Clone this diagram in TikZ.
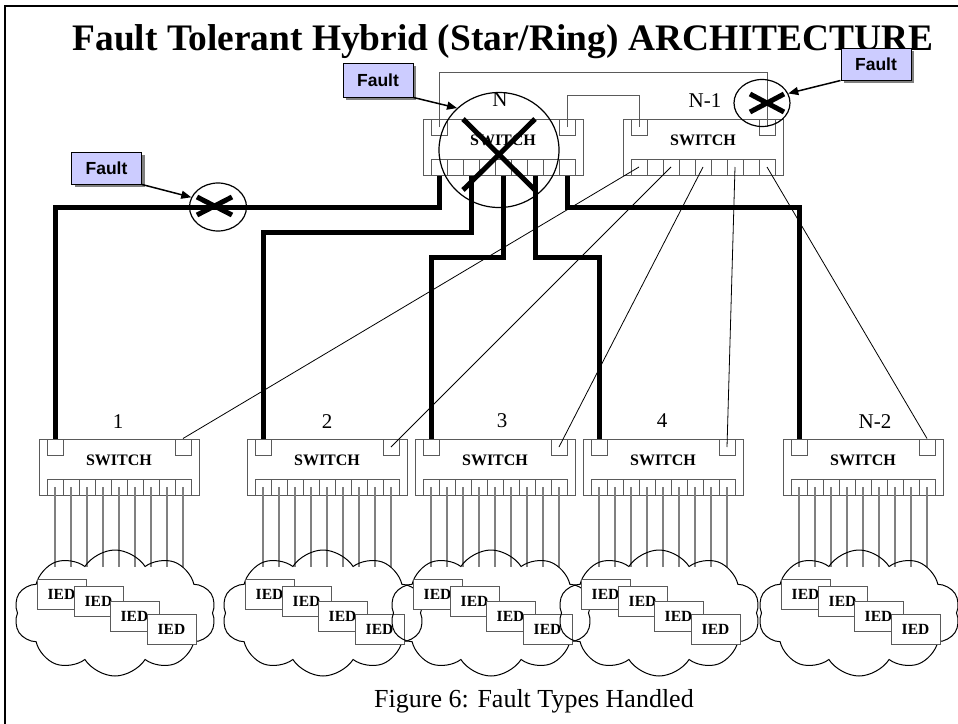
\documentclass[tikz,border=0pt]{standalone}
\usepackage{fontspec}
\setmainfont{Liberation Serif}
\newfontfamily\arialfont{Liberation Sans}
\usetikzlibrary{shapes.geometric,shapes.symbols,arrows.meta,shadows}
\definecolor{faultfill}{HTML}{CCCCFF}
\definecolor{swgray}{HTML}{5A5A5A}
\definecolor{wiregray}{HTML}{808080}
\tikzset{
 swbox/.style={draw=swgray, line width=1pt, minimum width=160pt, minimum height=56pt, inner sep=0pt, anchor=north west},
 swport/.style={draw=swgray, line width=1pt, minimum width=16pt, minimum height=16pt, inner sep=0pt},
 swtext/.style={font=\fontsize{16}{16}\selectfont\bfseries, inner sep=0pt},
 swlabel/.style={font=\fontsize{21}{21}\selectfont, inner sep=0pt},
 iedwire/.style={draw=wiregray, line width=1.3pt},
 trunk/.style={line width=5pt, line join=miter},
 ring/.style={draw=swgray, line width=1pt},
 link/.style={line width=0.8pt},
 cloudnode/.style={cloud, draw, cloud puffs=10, cloud puff arc=115, aspect=1.6, minimum width=202pt, minimum height=126pt, inner sep=0pt, line width=1pt},
 ied/.style={draw=swgray, fill=white, line width=1pt, minimum width=49pt, minimum height=30pt, inner sep=0pt, font=\fontsize{15.5}{15.5}\selectfont\bfseries},
 faultbox/.style={draw=black, fill=faultfill, line width=1pt, minimum width=70pt, minimum height=32pt, inner sep=0pt, font=\arialfont\fontsize{17.5}{17.5}\selectfont\bfseries, drop shadow={shadow xshift=3pt, shadow yshift=-3pt, fill=gray, opacity=1}},
 faultring/.style={ellipse, draw, line width=1.2pt, inner sep=0pt},
 crossline/.style={line width=5pt},
 faultarrow/.style={line width=1.5pt, -{Triangle[length=10pt,width=8pt]}},
}
\newcommand\switchunit[3]{%
 \node[swbox] (#1) at (#2,#3) {};
 \node[swtext] (#1t) at ({#2+80},{#3+21}) {SWITCH};
 \node[swport] (#1pl) at ({#2+16},{#3+8}) {};
 \node[swport] (#1pr) at ({#2+144},{#3+8}) {};
 \foreach \i in {1,...,9} {\node[swport] (#1c\i) at ({#2+16*\i},{#3+48}) {};}
}
\newcommand\bottomunit[2]{%
 \switchunit{#1}{#2}{439}
 \foreach \i in {1,...,9} {\draw[iedwire] (#1c\i.center) -- ++(0,80);}
 \node[cloudnode] (#1cl) at ({#2+76},613) {};
 \node[ied] (#1ia) at ({#2+22.5},594) {IED};
 \node[ied] (#1ib) at ({#2+59.5},601.5) {IED};
 \node[ied] (#1ic) at ({#2+95.5},616) {IED};
 \node[ied] (#1id) at ({#2+132.5},629.5) {IED};
}
\begin{document}
\begin{tikzpicture}[x=1pt,y=-1pt]
\useasboundingbox (0,0) rectangle (958,723);
\draw[line width=2pt] (5,730) -- (5,6) -- (965,6);
\node[font=\fontsize{37.4}{37.4}\selectfont\bfseries, anchor=base] (title) at (503,50) {Fault Tolerant Hybrid (Star/Ring) ARCHITECTURE};
\node[font=\fontsize{26}{26}\selectfont, anchor=base] (caption) at (534,707) {Figure 6: Fault Types Handled};
% top switches
\switchunit{N}{423}{119}
\switchunit{Nm}{623}{119}
\node[swlabel] (Nlab) at (500,100) {N};
\node[swlabel] (Nmlab) at (705,101) {N-1};
% bottom switches
\bottomunit{sa}{39}
\bottomunit{sb}{247}
\bottomunit{sc}{415}
\bottomunit{sd}{583}
\bottomunit{se}{783}
\node[swlabel] (salab) at (118,422) {1};
\node[swlabel] (sblab) at (327,422) {2};
\node[swlabel] (sclab) at (502,421) {3};
\node[swlabel] (sdlab) at (662,421) {4};
\node[swlabel] (selab) at (875,422) {N-2};
% ring links
\draw[ring] (Npl.center) -- ++(0,-55) -| (Nmpr.center);
\draw[ring] (Npr.center) -- ++(0,-32) -| (Nmpl.center);
% thin links from N-1
\draw[link] (Nmc1.center) -- (sapr.north);
\draw[link] (Nmc3.center) -- (sbpr.center);
\draw[link] (Nmc5.center) -- (scpr.center);
\draw[link] (Nmc7.center) -- (sdpr.center);
\draw[link] (Nmc9.center) -- (sepr.north);
% trunks from N
\coordinate (ba) at (55,207);
\coordinate (bb) at (263,232);
\coordinate (bc) at (431,257);
\coordinate (bd) at (599,257);
\coordinate (be) at (799,207);
\draw[trunk] (Nc1.south) |- (ba) -- (sapl.north);
\draw[trunk] (Nc3.south) |- (bb) -- (sbpl.north);
\draw[trunk] (Nc5.south) |- (bc) -- (scpl.north);
\draw[trunk] (Nc7.south) |- (bd) -- (sdpl.north);
\draw[trunk] (Nc9.south) |- (be) -- (sepl.north);
% faults
\node[faultring, minimum width=120pt, minimum height=115pt] (fN) at (499,150) {};
\node[faultring, minimum width=57pt, minimum height=48pt] (fa) at (218,207) {};
\node[faultring, minimum width=56pt, minimum height=47pt] (fb) at (762,103) {};
\draw[crossline] (463,119) -- (535,190);
\draw[crossline] (535,119) -- (463,190);
\draw[crossline] (197,197) -- (232,215);
\draw[crossline] (197,215) -- (232,197);
\draw[crossline] (750,94) -- (784,112);
\draw[crossline] (750,112) -- (784,94);
\node[faultbox] (fba) at (106.5,168) {Fault};
\node[faultbox, minimum height=34pt] (fbb) at (378,80) {Fault};
\node[faultbox] (fbc) at (876,64) {Fault};
\draw[faultarrow] (fba.south east) -- (fa.160);
\draw[faultarrow] (fbb.south east) -- (fN.135);
\draw[faultarrow] (fbc.south west) -- (fb.20);
\end{tikzpicture}
\end{document}
